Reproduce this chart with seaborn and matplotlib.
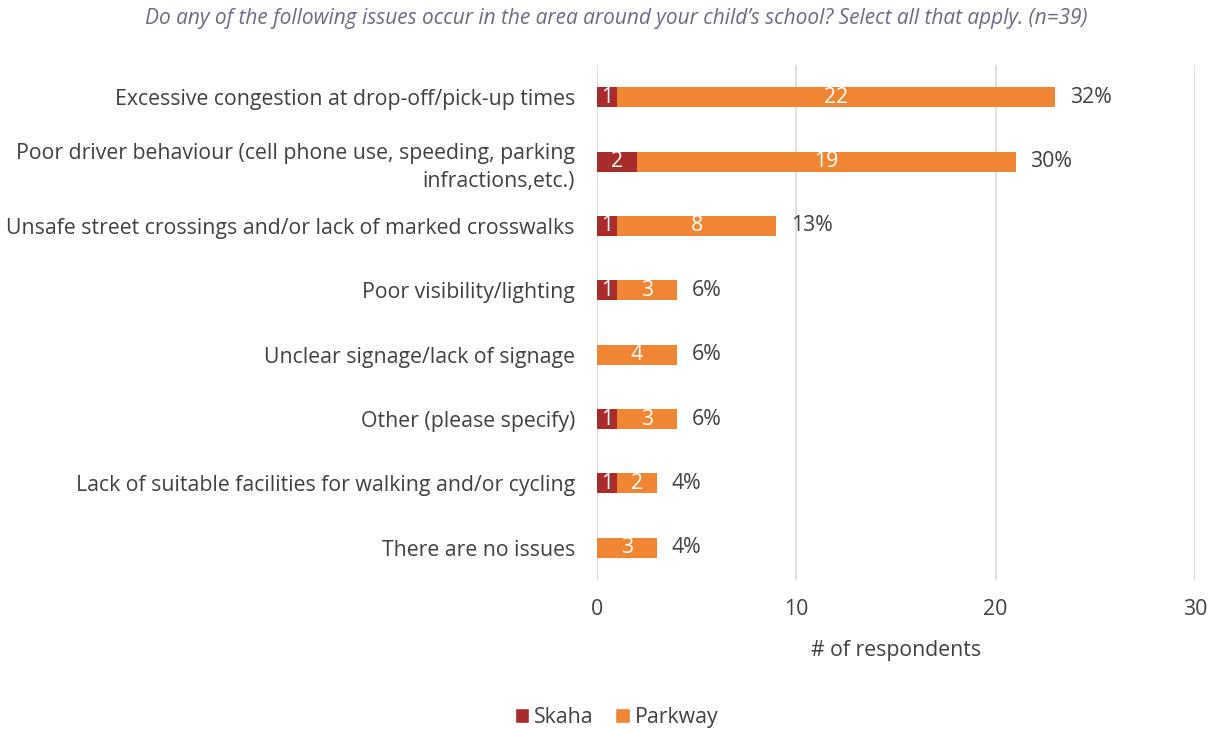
import matplotlib
matplotlib.use("Agg")
import matplotlib.pyplot as plt
from matplotlib.patches import Patch
import seaborn as sns
import pandas as pd

categories = [
    "Excessive congestion at drop-off/pick-up times",
    "Poor driver behaviour (cell phone use, speeding, parking\ninfractions,etc.)",
    "Unsafe street crossings and/or lack of marked crosswalks",
    "Poor visibility/lighting",
    "Unclear signage/lack of signage",
    "Other (please specify)",
    "Lack of suitable facilities for walking and/or cycling",
    "There are no issues",
]
skaha = [1, 2, 1, 1, 0, 1, 1, 0]
parkway = [22, 19, 8, 3, 4, 3, 2, 3]
percent_labels = ["32%", "30%", "13%", "6%", "6%", "6%", "4%", "4%"]

title = "Do any of the following issues occur in the area around your child\u2019s school? Select all that apply. (n=39)"
skaha_color = "#A82C2C"
parkway_color = "#F08634"
text_color = "#404040"
grid_color = "#D9D9D9"
fs = 15.35

sns.set_theme(style="white")
plt.rcParams["font.family"] = ["Open Sans", "DejaVu Sans"]

df = pd.DataFrame({
    "issue": categories,
    "Skaha": skaha,
    "Parkway": parkway,
})
df["total"] = df["Skaha"] + df["Parkway"]

fig = plt.figure(figsize=(12.14, 7.29), dpi=100)
ax = fig.add_axes([0.4918, 0.2044, 0.4925, 0.7064])

# stacked bars: full total in Parkway colour, Skaha segment drawn over the start
sns.barplot(data=df, y="issue", x="total", color=parkway_color, width=0.31,
            orient="h", ax=ax, saturation=1, zorder=3, linewidth=0)
sns.barplot(data=df, y="issue", x="Skaha", color=skaha_color, width=0.31,
            orient="h", ax=ax, saturation=1, zorder=4, linewidth=0)

ax.set_xlim(0, 30)
ax.set_xticks([0, 10, 20, 30])
ax.grid(axis="x", color=grid_color, linewidth=1.2, zorder=0)
ax.grid(axis="y", visible=False)
for s in ax.spines.values():
    s.set_visible(False)

ax.tick_params(axis="x", length=0, pad=14, labelsize=fs, labelcolor=text_color)
ax.tick_params(axis="y", length=0, pad=16, labelsize=fs, labelcolor=text_color)
for lbl in ax.get_yticklabels():
    lbl.set_horizontalalignment("right")
    lbl.set_multialignment("right")
    lbl.set_linespacing(1.45)
ax.set_ylabel("")
ax.set_xlabel("# of respondents", fontsize=fs, color=text_color, labelpad=14)

for i, (s, p, pct) in enumerate(zip(skaha, parkway, percent_labels)):
    if s > 0:
        ax.text(s / 2, i, str(s), ha="center", va="center", color="white",
                fontsize=fs, zorder=5)
    if p > 0:
        ax.text(s + p / 2, i, str(p), ha="center", va="center", color="white",
                fontsize=fs, zorder=5)
    ax.text(s + p + 0.75, i, pct, ha="left", va="center", color=text_color,
            fontsize=fs, zorder=5)

fig.text(0.508, 0.974, title, ha="center", va="center", fontsize=15,
         style="italic", color="#6E6A86")

handles = [Patch(facecolor=skaha_color, label="Skaha"),
           Patch(facecolor=parkway_color, label="Parkway")]
leg = fig.legend(handles=handles, loc="center", bbox_to_anchor=(0.508, 0.016),
                 ncol=2, frameon=False, fontsize=fs, handlelength=0.68,
                 handleheight=0.68, handletextpad=0.25, columnspacing=1.0)
for t in leg.get_texts():
    t.set_color(text_color)

fig.savefig("out.png", dpi=100)
